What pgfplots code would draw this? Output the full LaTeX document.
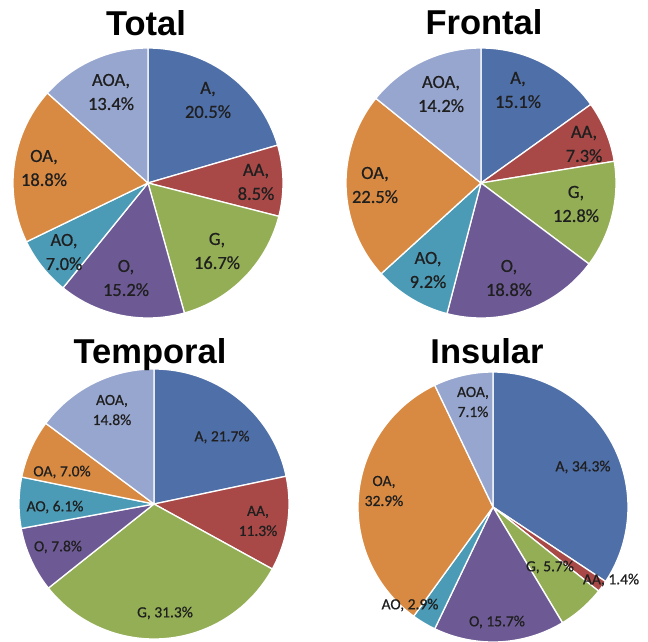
\documentclass[border=0pt]{standalone}
\usepackage{pgfplots}
\pgfplotsset{compat=1.18}
\usepackage{fontspec}
\setmainfont{Carlito}
\newfontfamily\titlefont{Liberation Sans}
\newfontfamily\labfont[FakeBold=0.6]{Carlito}

% slice colours
\definecolor{cA}{HTML}{4F6FA8}
\definecolor{cAA}{HTML}{A84947}
\definecolor{cG}{HTML}{93AE55}
\definecolor{cO}{HTML}{6D5A95}
\definecolor{cAO}{HTML}{4C9BB6}
\definecolor{cOA}{HTML}{D88A42}
\definecolor{cAOA}{HTML}{97A6CF}

\newcommand\R{135}
% start a new pie: argument is the sum of its percentages
\newcommand\startpie[1]{\gdef\cum{0}\gdef\tot{#1}}
% one wedge, clockwise from 12 o'clock: percentage, colour
\newcommand\slice[2]{%
  \pgfmathsetmacro\sa{90-360*(\cum/\tot)}%
  \pgfmathsetmacro\cumnew{\cum+#1}%
  \xdef\cum{\cumnew}%
  \pgfmathsetmacro\sb{90-360*(\cum/\tot)}%
  \edef\next{\noexpand\addplot[fill=#2, draw=white, line width=1.3pt,
      line join=round, domain=\sb:\sa, samples=90]
      ({\R*cos(x)}, {\R*sin(x)}) -- (axis cs:0,0) -- cycle;}%
  \next}

\pgfplotsset{pie/.style={hide axis, x=1pt, y=1pt,
    xmin=-137, xmax=137, ymin=-137, ymax=137,
    anchor=origin, clip=false}}

\tikzset{
  lab/.style={font=\labfont\fontsize{18.5}{24}\selectfont, align=center,
    text=black!88, inner sep=0pt},
  labs/.style={font=\labfont\fontsize{15.5}{20}\selectfont, align=center,
    text=black!88, inner sep=0pt},
  ttl/.style={font=\titlefont\bfseries\fontsize{34.5}{36}\selectfont,
    anchor=base, inner sep=0pt}
}

\begin{document}
\begin{tikzpicture}
\path[use as bounding box] (0,0) rectangle (648pt,-642pt);

% ---------------- Total ----------------
\begin{axis}[pie, at={(148pt,-183pt)}]
  \startpie{100.1}
  \slice{20.5}{cA}
  \slice{8.5}{cAA}
  \slice{16.7}{cG}
  \slice{15.2}{cO}
  \slice{7.0}{cAO}
  \slice{18.8}{cOA}
  \slice{13.4}{cAOA}
  \node[lab] at (axis cs:60,83)    {A,\\20.5\%};
  \node[lab] at (axis cs:108,1)    {AA,\\8.5\%};
  \node[lab] at (axis cs:69,-68)   {G,\\16.7\%};
  \node[lab] at (axis cs:-22,-95)  {O,\\15.2\%};
  \node[lab] at (axis cs:-84,-69)  {AO,\\7.0\%};
  \node[lab] at (axis cs:-104,15)  {OA,\\18.8\%};
  \node[lab] at (axis cs:-37,91)   {AOA,\\13.4\%};
  \node[ttl] at (axis cs:-2,147) {Total};
\end{axis}

% ---------------- Frontal ----------------
\begin{axis}[pie, at={(481pt,-183pt)}]
  \startpie{99.9}
  \slice{15.1}{cA}
  \slice{7.3}{cAA}
  \slice{12.8}{cG}
  \slice{18.8}{cO}
  \slice{9.2}{cAO}
  \slice{22.5}{cOA}
  \slice{14.2}{cAOA}
  \node[lab] at (axis cs:37,93)    {A,\\15.1\%};
  \node[lab] at (axis cs:103,39)   {AA,\\7.3\%};
  \node[lab] at (axis cs:95,-21)   {G,\\12.8\%};
  \node[lab] at (axis cs:28,-95)   {O,\\18.8\%};
  \node[lab] at (axis cs:-53,-87)  {AO,\\9.2\%};
  \node[lab] at (axis cs:-106,-2)  {OA,\\22.5\%};
  \node[lab] at (axis cs:-40,89)   {AOA,\\14.2\%};
  \node[ttl] at (axis cs:3,148) {Frontal};
\end{axis}

% ---------------- Temporal ----------------
\begin{axis}[pie, at={(154pt,-504pt)}]
  \startpie{100.0}
  \slice{21.7}{cA}
  \slice{11.3}{cAA}
  \slice{31.3}{cG}
  \slice{7.8}{cO}
  \slice{6.1}{cAO}
  \slice{7.0}{cOA}
  \slice{14.8}{cAOA}
  \node[labs] at (axis cs:68,67)    {A, 21.7\%};
  \node[labs] at (axis cs:104,-17)  {AA,\\11.3\%};
  \node[labs] at (axis cs:11,-109)  {G, 31.3\%};
  \node[labs] at (axis cs:-96,-43)  {O, 7.8\%};
  \node[labs] at (axis cs:-99,-3)   {AO, 6.1\%};
  \node[labs] at (axis cs:-92,32)   {OA, 7.0\%};
  \node[labs] at (axis cs:-42,94)   {AOA,\\14.8\%};
  \node[ttl] at (axis cs:-4,141) {Temporal};
\end{axis}

% ---------------- Insular ----------------
\begin{axis}[pie, at={(493pt,-507pt)}]
  \startpie{100.0}
  \slice{34.3}{cA}
  \slice{1.4}{cAA}
  \slice{5.7}{cG}
  \slice{15.7}{cO}
  \slice{2.9}{cAO}
  \slice{32.9}{cOA}
  \slice{7.1}{cAOA}
  \node[labs] at (axis cs:90,40)    {A, 34.3\%};
  \node[labs] at (axis cs:118,-73)  {AA, 1.4\%};
  \node[labs] at (axis cs:57,-60)   {G, 5.7\%};
  \node[labs] at (axis cs:4,-115)   {O, 15.7\%};
  \node[labs] at (axis cs:-83,-98)  {AO, 2.9\%};
  \node[labs] at (axis cs:-109,16)  {OA,\\32.9\%};
  \node[labs] at (axis cs:-20,105)  {AOA,\\7.1\%};
  \node[ttl] at (axis cs:-6,144) {Insular};
\end{axis}
\end{tikzpicture}
\end{document}
